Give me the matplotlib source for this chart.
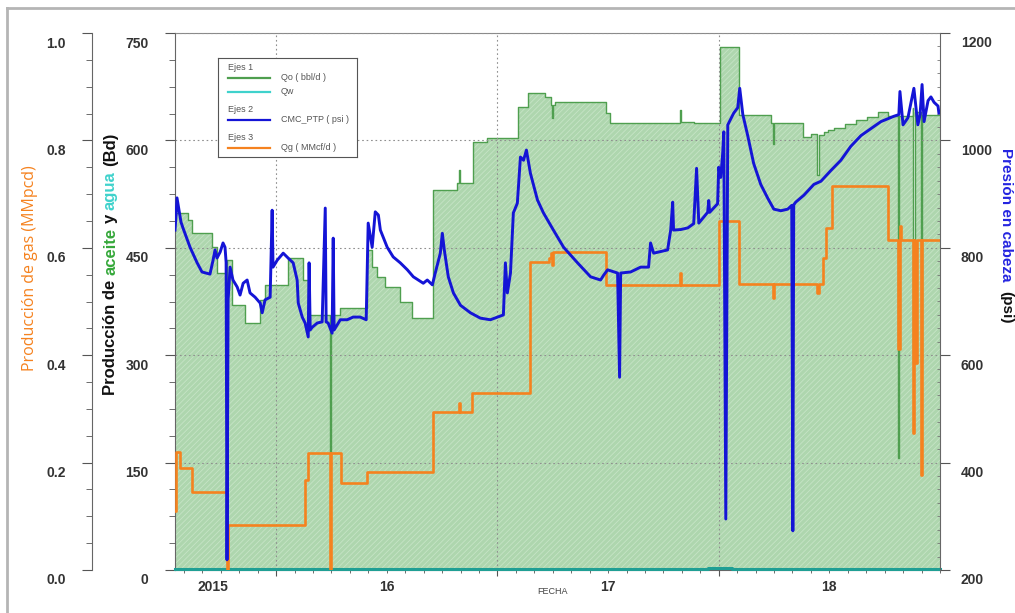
import numpy as np
import matplotlib.pyplot as plt
from matplotlib.ticker import MultipleLocator, FormatStrFormatter
from matplotlib.transforms import ScaledTranslation, blended_transform_factory
from matplotlib.lines import Line2D

plt.rcParams['font.family'] = ['Liberation Sans', 'DejaVu Sans']
plt.rcParams['hatch.linewidth'] = 0.6

# --- datos (fecha en años decimales) ---
# Qo, bbl/d (escalonado)
qo_t = [2015.543, 2015.602, 2015.620, 2015.710, 2015.733, 2015.774, 2015.779, 2015.801,
        2015.860, 2015.928, 2015.950, 2016.054, 2016.122, 2016.145, 2016.244, 2016.249,
        2016.290, 2016.412, 2016.434, 2016.457, 2016.493, 2016.561, 2016.615, 2016.710,
        2016.819, 2016.826, 2016.831, 2016.891, 2016.955, 2017.095, 2017.136, 2017.217,
        2017.240, 2017.248, 2017.253, 2017.262, 2017.489, 2017.511, 2017.826, 2017.831,
        2017.887, 2018.005, 2018.090, 2018.235, 2018.247, 2018.252, 2018.380, 2018.416,
        2018.446, 2018.451, 2018.475, 2018.493, 2018.520, 2018.570, 2018.620, 2018.670,
        2018.720, 2018.765, 2018.808, 2018.813, 2018.878, 2018.880, 2018.885, 2018.912,
        2018.917, 2019.0]
qo = [499, 489, 471, 451, 415, 284, 433, 370,
      345, 377, 398, 436, 405, 356, 163, 356,
      366, 447, 423, 409, 395, 374, 352, 531,
      540, 559, 540, 598, 603, 647, 666, 661,
      649, 631, 649, 654, 638, 624, 642, 626,
      624, 730, 636, 624, 595, 624, 605, 609,
      551, 607, 612, 614, 618, 623, 628, 633,
      639, 634, 157, 634, 645, 289, 640, 289,
      636, 636]

# Qw, bbl/d
qw_t = [2015.543, 2017.950, 2018.060, 2019.0]
qw = [1, 3, 1, 1]

# CMC_PTP, psi
ptp_t = [2015.543, 2015.548, 2015.552, 2015.561, 2015.570, 2015.579, 2015.611, 2015.643,
         2015.665, 2015.701, 2015.715, 2015.724, 2015.733, 2015.747, 2015.760, 2015.769,
         2015.774, 2015.778, 2015.783, 2015.792, 2015.805, 2015.824, 2015.837, 2015.851,
         2015.869, 2015.882, 2015.905, 2015.928, 2015.937, 2015.950, 2015.973, 2015.982,
         2015.986, 2016.005, 2016.032, 2016.054, 2016.077, 2016.095, 2016.100, 2016.118,
         2016.131, 2016.145, 2016.149, 2016.154, 2016.163, 2016.186, 2016.208, 2016.222,
         2016.226, 2016.235, 2016.253, 2016.258, 2016.262, 2016.290, 2016.321, 2016.348,
         2016.380, 2016.407, 2016.416, 2016.434, 2016.448, 2016.462, 2016.471, 2016.502,
         2016.529, 2016.561, 2016.593, 2016.620, 2016.665, 2016.683, 2016.706, 2016.719,
         2016.742, 2016.751, 2016.760, 2016.778, 2016.801, 2016.833, 2016.878, 2016.923,
         2016.968, 2017.027, 2017.036, 2017.045, 2017.059, 2017.072, 2017.090, 2017.104,
         2017.118, 2017.131, 2017.149, 2017.181, 2017.208, 2017.253, 2017.299, 2017.362,
         2017.421, 2017.466, 2017.480, 2017.498, 2017.543, 2017.552, 2017.557, 2017.602,
         2017.647, 2017.683, 2017.692, 2017.706, 2017.769, 2017.783, 2017.792, 2017.796,
         2017.828, 2017.860, 2017.887, 2017.900, 2017.910, 2017.950, 2017.955, 2017.959,
         2017.995, 2018.000, 2018.009, 2018.018, 2018.023, 2018.032, 2018.041, 2018.068,
         2018.086, 2018.095, 2018.109, 2018.131, 2018.158, 2018.190, 2018.222, 2018.249,
         2018.281, 2018.312, 2018.330, 2018.335, 2018.339, 2018.348, 2018.385, 2018.430,
         2018.462, 2018.507, 2018.552, 2018.597, 2018.643, 2018.688, 2018.733, 2018.792,
         2018.814, 2018.819, 2018.833, 2018.855, 2018.882, 2018.900, 2018.910, 2018.919,
         2018.928, 2018.946, 2018.959, 2018.973, 2018.991, 2018.995]
ptp = [833, 861, 893, 870, 848, 837, 801, 772,
       755, 751, 777, 796, 781, 792, 809, 801,
       773, 219, 703, 764, 740, 727, 712, 734,
       740, 716, 708, 697, 679, 703, 708, 870,
       764, 777, 790, 781, 772, 740, 697, 671,
       660, 634, 772, 647, 652, 660, 662, 874,
       662, 660, 641, 818, 647, 666, 666, 671,
       671, 666, 846, 801, 867, 861, 833, 801,
       783, 772, 759, 746, 734, 740, 731, 753,
       790, 827, 796, 746, 716, 693, 679, 669,
       666, 675, 772, 716, 753, 865, 883, 969,
       963, 982, 939, 889, 865, 833, 801, 772,
       746, 740, 749, 759, 753, 559, 753, 755,
       764, 764, 809, 790, 796, 833, 885, 833,
       834, 837, 845, 948, 846, 866, 888, 866,
       882, 950, 931, 976, 1016, 295, 1029, 1051,
       1061, 1097, 1048, 1009, 957, 918, 892, 872,
       869, 872, 879, 273, 880, 885, 898, 918,
       924, 944, 963, 989, 1009, 1022, 1035, 1045,
       1048, 1091, 1029, 1042, 1097, 1029, 1048, 1104,
       1035, 1074, 1081, 1071, 1064, 1051]

# Qg, MMcf/d (escalonado)
qg_t = [2015.543, 2015.548, 2015.566, 2015.620, 2015.776, 2015.781, 2016.131, 2016.145,
        2016.243, 2016.249, 2016.294, 2016.412, 2016.710, 2016.826, 2016.831, 2016.887,
        2017.149, 2017.231, 2017.240, 2017.248, 2017.253, 2017.489, 2017.826, 2017.831,
        2018.000, 2018.090, 2018.247, 2018.252, 2018.446, 2018.451, 2018.471, 2018.484,
        2018.511, 2018.765, 2018.812, 2018.817, 2018.821, 2018.826, 2018.876, 2018.881,
        2018.889, 2018.894, 2018.912, 2018.918, 2019.0]
qg = [0.11, 0.22, 0.19, 0.145, 0.0, 0.084, 0.168, 0.218,
      0.0, 0.218, 0.162, 0.183, 0.295, 0.311, 0.295, 0.330,
      0.574, 0.581, 0.591, 0.568, 0.592, 0.531, 0.553, 0.531,
      0.649, 0.532, 0.506, 0.532, 0.516, 0.532, 0.581, 0.636,
      0.715, 0.615, 0.412, 0.615, 0.640, 0.615, 0.255, 0.615,
      0.385, 0.615, 0.177, 0.615, 0.615]

year_ticks = [2016, 2017, 2018]
year_labels = ['2015', '16', '17', '18']
year_label_x = [2015.715, 2016.5, 2017.5, 2018.5]

legend_headers = ['Ejes 1', 'Ejes 2', 'Ejes 3']
legend_labels = ['Qo ( bbl/d )', 'Qw', 'CMC_PTP ( psi )', 'Qg ( MMcf/d )']

c_oil = '#4f9f4f'
c_water = '#3fd2cc'
c_press = '#1414d6'
c_gas = '#f5821f'

W, H = 1015, 613
fig = plt.figure(figsize=(W / 100, H / 100), dpi=100)
ax = fig.add_axes([175 / W, (H - 570) / H, 765 / W, 537 / H])

ax.fill_between(qo_t, 0, qo, step='post', facecolor='#aed6ae', edgecolor='#c6e4c6',
                hatch='//////', linewidth=0, zorder=1)
ax.step(qo_t, qo, where='post', color=c_oil, lw=1.0, zorder=2)
ax.step(qw_t, qw, where='post', color='#1f9f94', lw=2.2, zorder=3, clip_on=False)

ax.set_xlim(2015.543, 2019.0)
ax.set_ylim(0, 750)
ax.set_yticks(np.arange(0, 751, 150))
ax.yaxis.set_minor_locator(MultipleLocator(37.5))
ax.set_xticks(year_ticks)
ax.set_xticklabels([])
ax.xaxis.set_minor_locator(MultipleLocator(1 / 12))
ax.set_axisbelow(False)
ax.grid(True, which='major', color='#8f8f8f', ls=(0, (1.5, 2.5)), lw=0.8)

ax.tick_params(axis='y', which='major', length=7, color='#555', pad=12,
               labelsize=10, labelcolor='#333')
ax.tick_params(axis='y', which='minor', length=4, color='#555')
ax.tick_params(axis='x', which='major', length=4.5, color='#555')
ax.tick_params(axis='x', which='minor', length=2.5, color='#555')
for s in ['left', 'bottom']:
    ax.spines[s].set_color('#666')
ax.spines['top'].set_color('#8a8a8a')
ax.spines['right'].set_visible(False)

# eje de gas
axg = ax.twinx()
axg.step(qg_t, qg, where='post', color=c_gas, lw=1.9)
axg.set_ylim(0, 1.0)
axg.set_yticks(np.arange(0, 1.01, 0.2))
axg.yaxis.set_minor_locator(MultipleLocator(0.05))
axg.yaxis.set_major_formatter(FormatStrFormatter('%.1f'))
axg.yaxis.tick_left()
axg.spines['left'].set_position(('axes', -83 / 765))
axg.spines['left'].set_visible(True)
axg.spines['left'].set_color('#666')
for s in ['right', 'top', 'bottom']:
    axg.spines[s].set_visible(False)
axg.tick_params(axis='y', which='major', length=7, color='#555', pad=12,
                labelsize=10, labelcolor='#333')
axg.tick_params(axis='y', which='minor', length=4, color='#555')

# eje de presión
axp = ax.twinx()
axp.plot(ptp_t, ptp, color=c_press, lw=2.1)
axp.set_ylim(200, 1200)
axp.set_yticks(np.arange(200, 1201, 200))
axp.yaxis.set_minor_locator(MultipleLocator(25))
for s in ['left', 'top', 'bottom']:
    axp.spines[s].set_visible(False)
axp.spines['right'].set_color('#666')
axp.tick_params(axis='y', which='major', length=7, color='#555', pad=8,
                labelsize=10, labelcolor='#333')
axp.tick_params(axis='y', which='minor', length=2.5, direction='in', color='#777')

shift = ScaledTranslation(0, -0.09, fig.dpi_scale_trans)
for a in (ax, axg, axp):
    for lbl in a.get_yticklabels():
        lbl.set_fontweight('bold')
        lbl.set_transform(lbl.get_transform() + shift)

bt = blended_transform_factory(ax.transData, ax.transAxes)
for x, s in zip(year_label_x, year_labels):
    ax.text(x, -17 / 537, s, transform=bt, ha='center', va='center',
            fontsize=10, fontweight='bold', color='#333')
ax.text(0.494, -22 / 537, 'FECHA', transform=ax.transAxes, ha='center', va='center',
        fontsize=6.5, color='#444')

# títulos de ejes
fig.text(30 / W, 1 - 268 / H, 'Producción de gas (MMpcd)', rotation=90,
         ha='center', va='center', color=c_gas, fontsize=11.5,
         family=['Open Sans', 'DejaVu Sans'])

renderer = fig.canvas.get_renderer()


def vertical_label(x_px, y_px, parts, rotation, size, extra_gap=0):
    t1 = fig.text(0, 0, 'a a', fontsize=size, fontweight='bold')
    t2 = fig.text(0, 0, 'aa', fontsize=size, fontweight='bold')
    gap = t1.get_window_extent(renderer).width - t2.get_window_extent(renderer).width
    t1.remove()
    t2.remove()
    sign = 1 if rotation == 90 else -1
    pos = y_px
    for i, (s, col) in enumerate(parts):
        t = fig.text(x_px / W, pos / H, s, rotation=rotation, rotation_mode='anchor',
                     ha='left', va='baseline', color=col, fontsize=size, fontweight='bold')
        h = t.get_window_extent(renderer).height
        pos += sign * (h + gap + (extra_gap if i == 0 else 0))


vertical_label(115, H - 395, [('Producción de', '#111'), ('aceite', '#35a83a'),
                              ('y', '#111'), ('agua', '#3fd2cc'), ('(Bd)', '#111')],
               90, 12)
vertical_label(1002, H - 148, [('Presión en cabeza', '#2424e0'), ('(psi)', '#111')],
               -90, 11, extra_gap=5)

# marco exterior
fig.add_artist(Line2D([7 / W, 7 / W], [0, 1 - 8 / H], color='#b5b5b5', lw=2))
fig.add_artist(Line2D([7 / W, 1], [1 - 8 / H, 1 - 8 / H], color='#b5b5b5', lw=2))

# leyenda
lg = fig.add_axes([218 / W, (H - 157) / H, 139 / W, 99 / H])
lg.set_xlim(0, 139)
lg.set_ylim(99, 0)
lg.set_xticks([])
lg.set_yticks([])
for s in lg.spines.values():
    s.set_color('#555')
for s, y in zip(legend_headers, [10, 51, 80]):
    lg.text(10, y, s, fontsize=6.5, color='#555', va='center')
for s, y, c in zip(legend_labels, [20, 34, 62, 90], [c_oil, c_water, c_press, c_gas]):
    lg.plot([10, 52], [y, y], color=c, lw=1.6)
    lg.text(63, y, s, fontsize=6.5, color='#555', va='center')

fig.savefig('out.png', dpi=100)
